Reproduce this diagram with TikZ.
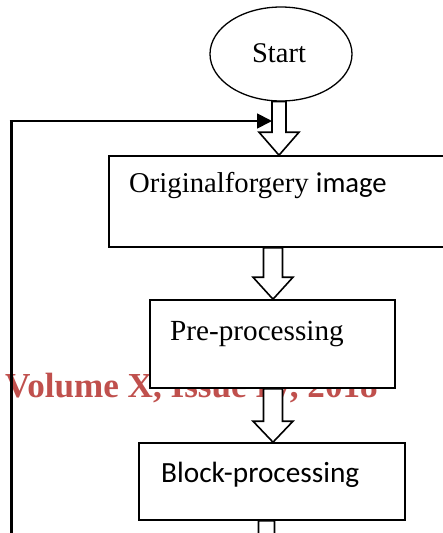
\documentclass[tikz,border=0pt]{standalone}
\usepackage{fontspec}
\setmainfont{Liberation Serif}
\newfontfamily\calfont{Carlito}
\usetikzlibrary{shapes.geometric,arrows.meta,calc}
\definecolor{wmred}{HTML}{C0504D}
\tikzset{
  boxstyle/.style={draw, line width=1.6pt, fill=white, rectangle, inner sep=0pt},
  txt/.style={inner sep=0pt, anchor=base west, font=\fontsize{29.2}{31}\selectfont},
  barrowstyle/.style={draw, line width=1.6pt, fill=white, line join=miter},
}
\newcommand\blockarrow[6]{%
  \draw[barrowstyle] let \p1=(#1), \p2=(#2) in
    (#3pt-#4pt,\y1) -- (#3pt-#4pt,\y2+#6pt) -- (#3pt-#5pt,\y2+#6pt) -- (#3pt,\y2)
    -- (#3pt+#5pt,\y2+#6pt) -- (#3pt+#4pt,\y2+#6pt) -- (#3pt+#4pt,\y1) -- cycle;}
\begin{document}
\begin{tikzpicture}[x=1pt,y=-1pt]
\useasboundingbox[fill=white] (0,0) rectangle (442,533);
% watermark
\node[inner sep=0pt, anchor=base west, text=wmred, font=\fontsize{35.1}{37}\selectfont\bfseries] (wm) at (5,397) {Volume X, Issue IV, 2018};
% start
\node[draw, ellipse, line width=1.3pt, minimum width=142pt, minimum height=94pt, inner sep=0pt] (start) at (281,54) {};
\node[inner sep=0pt, anchor=base, font=\fontsize{28.5}{30}\selectfont] (starttxt) at (279,62) {Start};
% boxes
\node[boxstyle, minimum width=341pt, minimum height=91pt] (b1) at (279.5,201.5) {};
\node[txt, font=\fontsize{28.7}{31}\selectfont] (t1) at (129,192) {Originalforgery {\calfont image}};
\node[boxstyle, minimum width=245pt, minimum height=88pt] (b2) at (272.5,344) {};
\node[txt] (t2) at (170,340) {Pre-processing};
\node[boxstyle, minimum width=266pt, minimum height=77pt] (b3) at (272,481.5) {};
\node[txt, font=\fontsize{29.3}{31}\selectfont\calfont] (t3) at (161,482) {Block-processing};
\coordinate (end4) at (266,560);
% block arrows
\blockarrow{start.south}{b1.north}{279}{7}{20}{23}
\blockarrow{b1.south}{b2.north}{273}{9.5}{20}{22}
\blockarrow{b2.south}{b3.north}{273}{9.5}{20}{21}
\blockarrow{b3.south}{end4}{266.5}{8}{20}{10}
% feedback loop
\coordinate (fbbot) at (11,540);
\coordinate (fbcorner) at (11,121);
\coordinate (fbtip) at (272,121);
\draw[line width=3pt] (fbbot) -- ([yshift=1pt]fbcorner);
\draw[line width=1.8pt, -{Triangle[length=15pt,width=15pt]}] ([xshift=-1.5pt]fbcorner) -- (fbtip);
\end{tikzpicture}
\end{document}
